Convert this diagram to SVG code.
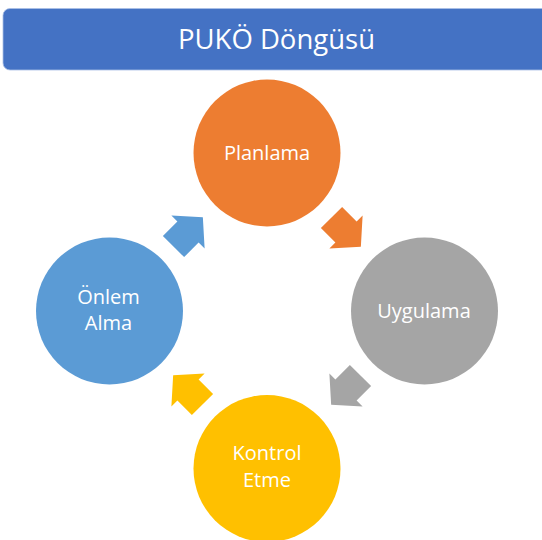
<svg xmlns="http://www.w3.org/2000/svg" width="542" height="540" viewBox="0 0 542 540">
<style>
.lbl{font-family:"Open Sans","Liberation Sans",sans-serif;font-size:20px;fill:#fff;text-anchor:middle}
.ttl{font-family:"Open Sans","Liberation Sans",sans-serif;font-size:27.5px;fill:#fff;text-anchor:middle}
</style>
<defs>
<polygon id="arr" points="-20.5,-15 0,-15 0,-23.5 21,0 0,23.5 0,15 -20.5,15"/>
</defs>
<rect width="542" height="540" fill="#fff"/>
<g id="title">
<rect x="3" y="8.5" width="560" height="61.5" rx="7" fill="#4472C4" stroke="#A9BFE6" stroke-width="0.8"/>
<text class="ttl" x="276.5" y="48.5">PUKÖ Döngüsü</text>
</g>
<g id="connectors">
<use href="#arr" fill="#ED7D31" transform="translate(346,232) rotate(45)"/>
<use href="#arr" fill="#A5A5A5" transform="translate(346,390) rotate(135)"/>
<use href="#arr" fill="#FFC000" transform="translate(188,390) rotate(-135)"/>
<use href="#arr" fill="#5B9BD5" transform="translate(188,232) rotate(-45)"/>
</g>
<g id="planlama">
<circle cx="267" cy="153" r="73.5" fill="#ED7D31"/>
<text class="lbl" x="267" y="159.5">Planlama</text>
</g>
<g id="uygulama">
<circle cx="424.5" cy="311" r="73.5" fill="#A5A5A5"/>
<text class="lbl" x="424" y="317.5">Uygulama</text>
</g>
<g id="kontrol">
<circle cx="267" cy="468.5" r="73.5" fill="#FFC000"/>
<text class="lbl" x="267" y="460">Kontrol</text>
<text class="lbl" x="267" y="486.5">Etme</text>
</g>
<g id="onlem">
<circle cx="109.5" cy="311" r="73.5" fill="#5B9BD5"/>
<text class="lbl" x="108.5" y="303.5">Önlem</text>
<text class="lbl" x="108.5" y="329.5">Alma</text>
</g>
</svg>
